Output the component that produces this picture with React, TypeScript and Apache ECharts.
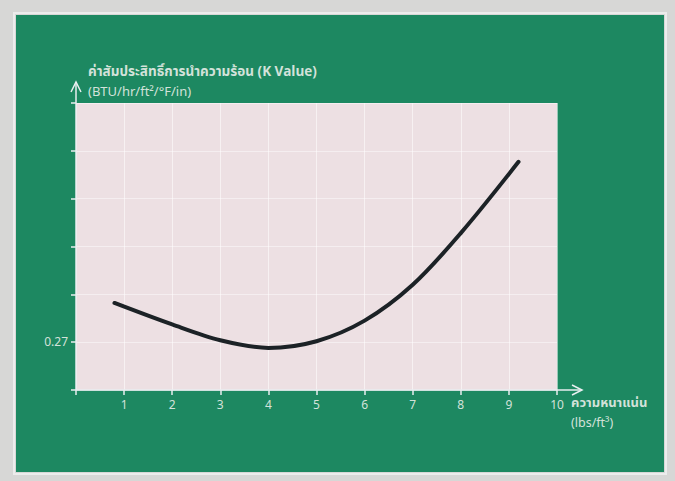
import React, { useEffect, useRef } from "react";
import * as echarts from "echarts";

const xTicks = [0, 1, 2, 3, 4, 5, 6, 7, 8, 9, 10];
const yLabelValues = [0.27];
const densityX = [0.8, 2.0, 3.0, 4.0, 5.0, 6.0, 7.0, 8.0, 9.2];
const kValues = [0.2782, 0.2737, 0.2704, 0.2688, 0.2702, 0.2745, 0.282, 0.2928, 0.3077];
const yTitleLine1 = "ค่าสัมประสิทธิ์การนำความร้อน (K Value)";
const yTitleLine2 = "(BTU/hr/ft²/°F/in)";
const xTitleLine1 = "ความหนาแน่น";
const xTitleLine2 = "(lbs/ft³)";

const FONT = "'Noto Sans Thai', 'Noto Sans', 'DejaVu Sans', sans-serif";
const TEXT = "#d3e2da";
const AXIS = "#e9eef0";

export default function App() {
  const ref = useRef<HTMLDivElement>(null);
  useEffect(() => {
    if (!ref.current) return;
    const chart = echarts.init(ref.current, undefined, { renderer: "svg" });
    chart.setOption({
      animation: false,
      backgroundColor: "#d7d7d6",
      graphic: [
        { type: "rect", shape: { x: 14, y: 13, width: 652, height: 461 }, style: { fill: "none", stroke: "#ececec", lineWidth: 2 }, z: -10 },
        { type: "rect", shape: { x: 16, y: 15, width: 648, height: 457 }, style: { fill: "#1d8861" }, z: -9 },
        { type: "line", shape: { x1: 76, y1: 390, x2: 76, y2: 82 }, style: { stroke: AXIS, lineWidth: 1.5 }, z: 20 },
        { type: "polyline", shape: { points: [[71, 92], [76, 82], [81, 92]] }, style: { stroke: AXIS, lineWidth: 1.5, fill: "none" }, z: 20 },
        { type: "line", shape: { x1: 76, y1: 390, x2: 582, y2: 390 }, style: { stroke: AXIS, lineWidth: 1.5 }, z: 20 },
        { type: "polyline", shape: { points: [[572, 385], [582, 390], [572, 395]] }, style: { stroke: AXIS, lineWidth: 1.5, fill: "none" }, z: 20 },
        { type: "text", x: 88, y: 65, style: { text: yTitleLine1, fill: TEXT, font: `bold 13.5px ${FONT}` }, z: 20 },
        { type: "text", x: 88, y: 85, style: { text: yTitleLine2, fill: TEXT, font: `13px ${FONT}` }, z: 20 },
        { type: "text", x: 571, y: 396, style: { text: xTitleLine1, fill: TEXT, font: `bold 13px ${FONT}` }, z: 20 },
        { type: "text", x: 571, y: 417, style: { text: xTitleLine2, fill: TEXT, font: `12.5px ${FONT}` }, z: 20 },
      ],
      grid: {
        left: 76,
        right: 118,
        top: 103,
        bottom: 91,
        show: true,
        backgroundColor: "#ede0e3",
        borderWidth: 0,
      },
      xAxis: {
        type: "value",
        min: xTicks[0],
        max: xTicks[xTicks.length - 1],
        interval: 1,
        axisLine: { show: false },
        axisTick: { show: true, length: 5, inside: false, lineStyle: { color: AXIS, width: 1.5 } },
        axisLabel: {
          color: TEXT,
          fontFamily: FONT,
          fontSize: 12,
          margin: 9,
          formatter: (v: number) => (v === 0 ? "" : String(v)),
        },
        splitLine: { show: true, lineStyle: { color: "rgba(255,255,255,0.55)", width: 1 } },
      },
      yAxis: {
        type: "value",
        min: 0.26,
        max: 0.32,
        interval: 0.01,
        axisLine: { show: false },
        axisTick: { show: true, length: 5, inside: false, lineStyle: { color: AXIS, width: 1.5 } },
        axisLabel: {
          color: TEXT,
          fontFamily: FONT,
          fontSize: 12,
          margin: 8,
          formatter: (v: number) => (yLabelValues.some((t) => Math.abs(t - v) < 1e-6) ? "0.27" : ""),
        },
        splitLine: { show: true, lineStyle: { color: "rgba(255,255,255,0.45)", width: 1 } },
      },
      series: [
        {
          type: "line",
          data: densityX.map((x, i) => [x, kValues[i]]),
          smooth: 0.33,
          showSymbol: false,
          lineStyle: { color: "#1c2226", width: 4, cap: "round" },
          z: 10,
        },
      ],
    });
    return () => chart.dispose();
  }, []);
  return <div ref={ref} style={{ position: "fixed", left: 0, top: 0, width: 675, height: 481 }} />;
}
